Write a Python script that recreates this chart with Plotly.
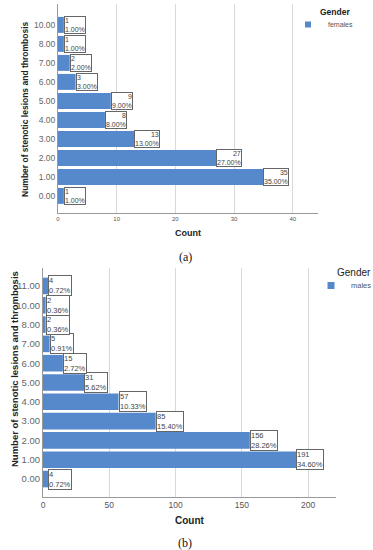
import plotly.graph_objects as go

categories_f = ["0.00", "1.00", "2.00", "3.00", "4.00", "5.00", "6.00", "7.00", "8.00", "10.00"]
counts_f = [1, 35, 27, 13, 8, 9, 3, 2, 1, 1]
pct_f = ["1.00%", "35.00%", "27.00%", "13.00%", "8.00%", "9.00%", "3.00%", "2.00%", "1.00%", "1.00%"]
align_f = ["left", "right", "right", "right", "right", "right", "left", "left", "left", "left"]

categories_m = ["0.00", "1.00", "2.00", "3.00", "4.00", "5.00", "6.00", "7.00", "8.00", "10.00", "11.00"]
counts_m = [4, 191, 156, 85, 57, 31, 15, 5, 2, 2, 4]
pct_m = ["0.72%", "34.60%", "28.26%", "15.40%", "10.33%", "5.62%", "2.72%", "0.91%", "0.36%", "0.36%", "0.72%"]

ticks_f = [0, 10, 20, 30, 40]
ticks_m = [0, 50, 100, 150, 200]

BAR = "#5689cc"
FONT = "Liberation Sans, Arial, sans-serif"
W, H = 373, 550

pos_f = list(range(len(categories_f)))
pos_m = list(range(len(categories_m)))

def px(x):
    return x / W

def py(y):
    return 1 - y / H

fig = go.Figure()
fig.add_trace(go.Bar(x=counts_f, y=pos_f, orientation="h", marker_color=BAR,
                     marker_line_width=0, width=0.84, name="females", showlegend=False,
                     xaxis="x", yaxis="y"))
fig.add_trace(go.Bar(x=counts_m, y=pos_m, orientation="h", marker_color=BAR,
                     marker_line_width=0, width=0.86, name="males", showlegend=False,
                     xaxis="x2", yaxis="y2"))
# legend swatches
fig.add_trace(go.Scatter(x=[None], y=[None], mode="markers", name="females",
                         marker=dict(symbol="square", size=6, color=BAR),
                         xaxis="x", yaxis="y", legend="legend"))
fig.add_trace(go.Scatter(x=[None], y=[None], mode="markers", name="males",
                         marker=dict(symbol="square", size=7, color=BAR),
                         xaxis="x2", yaxis="y2", legend="legend2"))

annotations = []
for i, v, p, a in zip(pos_f, counts_f, pct_f, align_f):
    annotations.append(dict(x=v, y=i, xref="x", yref="y", text=f"{v}<br>{p}",
                            showarrow=False, xanchor="left", yanchor="middle", align=a,
                            font=dict(family=FONT, size=7, color="#444"),
                            bgcolor="white", bordercolor="#666", borderwidth=1, borderpad=0))
for i, v, p in zip(pos_m, counts_m, pct_m):
    annotations.append(dict(x=v, y=i, xref="x2", yref="y2", text=f"{v}<br>{p}",
                            showarrow=False, xanchor="left", yanchor="middle", align="left",
                            font=dict(family=FONT, size=7.5, color="#444"),
                            bgcolor="white", bordercolor="#666", borderwidth=1, borderpad=0))

def note(x, y, text, size, family=FONT, color="#222", angle=0):
    return dict(x=px(x), y=py(y), xref="paper", yref="paper", text=text, textangle=angle,
                xanchor="center", yanchor="middle", showarrow=False,
                font=dict(family=family, size=size, color=color))

SERIF = "Liberation Serif, Times New Roman, serif"
annotations += [
    note(25, 110, "<b>Number of stenotic lesions and thrombosis</b>", 8.5, angle=-90),
    note(188, 233, "<b>Count</b>", 9),
    note(185, 257, "(a)", 12, family=SERIF, color="#111"),
    note(335, 12, "<b>Gender</b>", 8.5),
    note(14, 369, "<b>Number of stenotic lesions and thrombosis</b>", 9.5, angle=-90),
    note(190, 520, "<b>Count</b>", 10),
    note(185, 543, "(b)", 12, family=SERIF, color="#111"),
    note(354, 272, "Gender", 10),
]

fig.update_layout(
    width=W, height=H, margin=dict(l=0, r=0, t=0, b=0, autoexpand=False),
    paper_bgcolor="white", plot_bgcolor="white",
    font=dict(family=FONT, color="#555"),
    xaxis=dict(domain=[px(58), px(318)], range=[0, 44.3], tickvals=ticks_f,
               showgrid=True, gridcolor="#d9d9d9", gridwidth=1, zeroline=False,
               showline=True, linecolor="#999", linewidth=1, ticks="",
               tickfont=dict(size=6, color="#555"), anchor="y"),
    yaxis=dict(domain=[py(213), py(4)], range=[-0.9, 10.1], tickvals=pos_f, ticktext=categories_f,
               showgrid=False, zeroline=False,
               showline=True, linecolor="#999", linewidth=1, ticks="",
               tickfont=dict(size=8.5, color="#666"), anchor="x"),
    xaxis2=dict(domain=[px(43), px(336)], range=[0, 221], tickvals=ticks_m,
                showgrid=True, gridcolor="#d9d9d9", gridwidth=1, zeroline=False,
                showline=True, linecolor="#999", linewidth=1, ticks="",
                tickfont=dict(size=8.5, color="#555"), anchor="y2"),
    yaxis2=dict(domain=[py(497), py(268)], range=[-0.93, 10.93], tickvals=pos_m, ticktext=categories_m,
                showgrid=False, zeroline=False,
                showline=True, linecolor="#999", linewidth=1, ticks="",
                tickfont=dict(size=9.5, color="#666"), anchor="x2"),
    legend=dict(x=px(288), y=py(10), xanchor="left", yanchor="top",
                font=dict(size=7, color="#555"), itemwidth=30, bgcolor="rgba(0,0,0,0)"),
    legend2=dict(x=px(311), y=py(271), xanchor="left", yanchor="top",
                 font=dict(size=7.5, color="#555"), itemwidth=30, bgcolor="rgba(0,0,0,0)"),
    annotations=annotations,
    showlegend=True,
)

fig.write_html("out.html", config={"displayModeBar": False},
               post_script="document.body.style.margin='0';document.body.style.padding='0';")
